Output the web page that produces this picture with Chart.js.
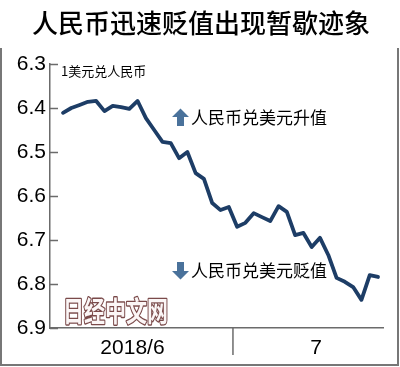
<!DOCTYPE html>
<html>
<head>
<meta charset="utf-8">
<script src="https://cdn.jsdelivr.net/npm/chart.js@4"></script>
<style>
  body { margin: 0; background: #fff; }
  canvas { display: block; }
</style>
</head>
<body>
<canvas id="myChart" width="400" height="367"></canvas>
<script>
const dates = [
    '6/1', '6/4', '6/5', '6/6', '6/7', '6/8', '6/11', '6/12', '6/13', '6/14', '6/15',
    '6/18', '6/19', '6/20', '6/21', '6/22', '6/25', '6/26', '6/27', '6/28', '6/29',
    '7/2', '7/3', '7/4', '7/5', '7/6', '7/9', '7/10', '7/11', '7/12', '7/13',
    '7/16', '7/17', '7/18', '7/19', '7/20', '7/23', '7/24', '7/25'
];
const rates = [
    6.411, 6.400, 6.393, 6.386, 6.384, 6.407, 6.395, 6.398, 6.402, 6.384, 6.423,
    6.450, 6.477, 6.480, 6.514, 6.500, 6.548, 6.561, 6.616, 6.632, 6.625,
    6.670, 6.661, 6.639, 6.648, 6.657, 6.623, 6.636, 6.689, 6.684,
    6.716, 6.695, 6.734, 6.786, 6.795, 6.807, 6.836, 6.780, 6.784
];
const yTicks = [6.3, 6.4, 6.5, 6.6, 6.7, 6.8, 6.9];
const monthLabels = ['2018/6', '7'];

const title = '人民币迅速贬值出现暂歇迹象';
const unitText = '1美元兑人民币';
const upText = '人民币兑美元升值';
const downText = '人民币兑美元贬值';
const watermark = '日经中文网';

const cjk = '"Noto Sans CJK SC", sans-serif';
const latin = '"Liberation Sans", Arial, sans-serif';
const lineColor = '#1d3d66';
const axisColor = '#6b6b6b';
const arrowColor = '#4a729b';

const juneCount = dates.filter(d => d.startsWith('6/')).length;

const extras = {
    id: 'extras',
    afterDraw(chart) {
        const c = chart.ctx;
        const x = chart.scales.x, y = chart.scales.y;
        const area = chart.chartArea;
        c.save();

        // title
        c.fillStyle = '#000';
        c.font = '500 26px ' + cjk;
        c.textAlign = 'center';
        c.textBaseline = 'middle';
        c.fillText(title, 201, 23);

        // frame (open top)
        c.strokeStyle = '#777';
        c.lineWidth = 2;
        c.beginPath();
        c.moveTo(1, 48);
        c.lineTo(1, 365);
        c.lineTo(398, 365);
        c.lineTo(398, 48);
        c.stroke();

        // inward y ticks
        c.strokeStyle = axisColor;
        c.lineWidth = 1.5;
        yTicks.forEach(v => {
            const py = Math.round(y.getPixelForValue(v)) + 0.5;
            c.beginPath();
            c.moveTo(area.left, py);
            c.lineTo(area.left + 8, py);
            c.stroke();
        });

        // month divider + labels
        const split = x.getPixelForValue(juneCount - 0.5);
        c.beginPath();
        c.moveTo(split, area.bottom);
        c.lineTo(split, area.bottom + 27);
        c.stroke();
        c.fillStyle = '#000';
        c.font = '21px ' + latin;
        c.textAlign = 'center';
        c.fillText(monthLabels[0], (area.left + split) / 2 - 9, area.bottom + 20);
        c.fillText(monthLabels[1], (split + area.right) / 2 + 8, area.bottom + 20);

        // unit label
        c.font = '13px ' + cjk;
        c.textAlign = 'left';
        c.fillText(unitText, area.left + 11, 71);

        // arrows + annotations
        c.fillStyle = arrowColor;
        c.beginPath();
        c.moveTo(172, 117); c.lineTo(180.5, 108.5); c.lineTo(189, 117);
        c.lineTo(184, 117); c.lineTo(184, 126); c.lineTo(177, 126); c.lineTo(177, 117);
        c.closePath(); c.fill();
        c.beginPath();
        c.moveTo(172, 271); c.lineTo(180.5, 279.5); c.lineTo(189, 271);
        c.lineTo(184, 271); c.lineTo(184, 262); c.lineTo(177, 262); c.lineTo(177, 271);
        c.closePath(); c.fill();

        c.fillStyle = '#000';
        c.font = '17px ' + cjk;
        c.fillText(upText, 191, 118);
        c.fillText(downText, 191, 271);

        // watermark
        c.translate(63, 311);
        c.scale(1, 1.35);
        c.font = 'bold 21px ' + cjk;
        c.lineJoin = 'round';
        c.strokeStyle = '#7a4a4a';
        c.lineWidth = 2;
        c.strokeText(watermark, 0, 0);
        c.fillStyle = '#fbf6f6';
        c.fillText(watermark, 0, 0);

        c.restore();
    }
};

new Chart(document.getElementById('myChart'), {
    type: 'line',
    data: {
        datasets: [{
            data: rates.map((v, i) => ({ x: i, y: v })),
            borderColor: lineColor,
            borderWidth: 3.8,
            borderJoinStyle: 'round',
            borderCapStyle: 'round',
            pointRadius: 0,
            tension: 0,
            fill: false
        }]
    },
    options: {
        responsive: false,
        animation: false,
        layout: { padding: { top: 64, right: 17, bottom: 39, left: 0 } },
        plugins: {
            legend: { display: false },
            tooltip: { enabled: false }
        },
        scales: {
            x: {
                type: 'linear',
                min: -1.57,
                max: 38.6,
                ticks: { display: false },
                grid: { display: false, drawTicks: false },
                border: { display: true, color: axisColor, width: 1.5 },
                afterFit: s => { s.height = 0; }
            },
            y: {
                reverse: true,
                min: 6.3,
                max: 6.9,
                afterBuildTicks: s => { s.ticks = yTicks.map(v => ({ value: v })); },
                ticks: {
                    color: '#000',
                    padding: 4,
                    font: { family: latin, size: 21 },
                    callback: v => v.toFixed(1)
                },
                grid: { display: false, drawTicks: false },
                border: { display: true, color: axisColor, width: 1.5 },
                afterFit: s => { s.width = 50; }
            }
        }
    },
    plugins: [extras]
});
</script>
</body>
</html>
